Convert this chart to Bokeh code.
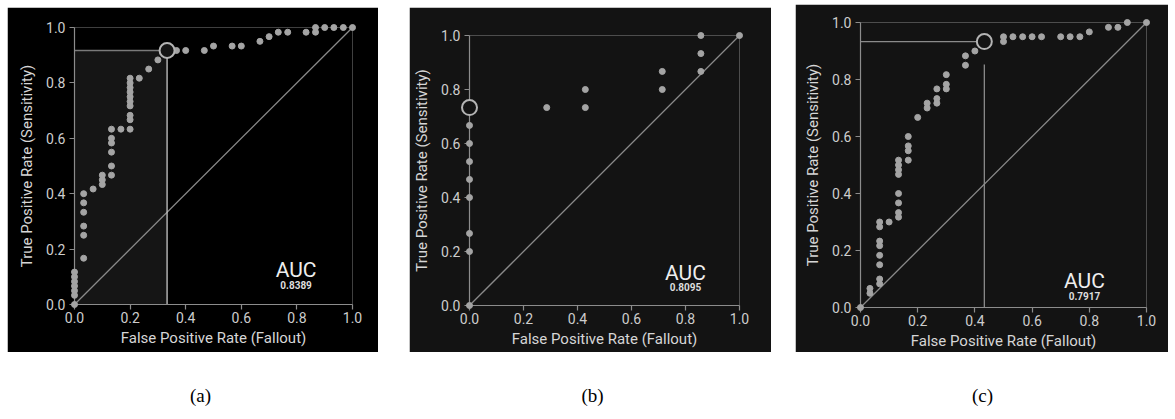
from bokeh.plotting import figure
from bokeh.layouts import row, column
from bokeh.models import Range1d, FixedTicker, Spacer, PrintfTickFormatter
from bokeh.core.properties import value
from bokeh.embed import file_html
from bokeh.resources import INLINE

# ---------------- data ----------------
tick_values = [0.0, 0.2, 0.4, 0.6, 0.8, 1.0]
tick_labels = ["0.0", "0.2", "0.4", "0.6", "0.8", "1.0"]
x_title = "False Positive Rate (Fallout)"
y_title = "True Positive Rate (Sensitivity)"
captions = ["(a)", "(b)", "(c)"]

# panel (a)
fpr_a = [0.0, 0.0, 0.0, 0.0, 0.0, 0.0, 0.0,
         0.033, 0.033, 0.033, 0.033, 0.033, 0.033,
         0.067,
         0.1, 0.1, 0.1,
         0.133, 0.133, 0.133, 0.133, 0.133, 0.133,
         0.167,
         0.2, 0.2, 0.2, 0.2, 0.2, 0.2, 0.2, 0.2, 0.2, 0.2,
         0.233, 0.267, 0.3, 0.367, 0.4, 0.467, 0.5, 0.567, 0.6,
         0.667, 0.7, 0.733, 0.767, 0.833, 0.867, 0.867, 0.9, 0.933, 0.967, 1.0]
tpr_a = [0.0, 0.033, 0.05, 0.067, 0.083, 0.1, 0.117,
         0.167, 0.25, 0.283, 0.333, 0.367, 0.4,
         0.417,
         0.433, 0.45, 0.467,
         0.467, 0.5, 0.55, 0.583, 0.6, 0.633,
         0.633,
         0.633, 0.667, 0.683, 0.717, 0.733, 0.75, 0.767, 0.783, 0.8, 0.817,
         0.817, 0.85, 0.883, 0.917, 0.917, 0.917, 0.933, 0.933, 0.933,
         0.95, 0.967, 0.983, 0.983, 0.983, 0.983, 1.0, 1.0, 1.0, 1.0, 1.0]
opt_a = (0.333, 0.917)
auc_a = "0.8389"

# panel (b)
fpr_b = [0.0, 0.0, 0.0, 0.0, 0.0, 0.0, 0.0, 0.0,
         0.286, 0.429, 0.429, 0.714, 0.714, 0.857, 0.857, 0.857, 1.0]
tpr_b = [0.0, 0.2, 0.267, 0.4, 0.467, 0.533, 0.6, 0.667,
         0.733, 0.733, 0.8, 0.8, 0.867, 0.867, 0.933, 1.0, 1.0]
opt_b = (0.0, 0.733)
auc_b = "0.8095"

# panel (c)
fpr_c = [0.0,
         0.033, 0.033,
         0.067, 0.067, 0.067, 0.067, 0.067, 0.067, 0.067, 0.067,
         0.1,
         0.133, 0.133, 0.133, 0.133, 0.133, 0.133, 0.133, 0.133,
         0.167, 0.167, 0.167, 0.167,
         0.2,
         0.233, 0.233,
         0.267, 0.267, 0.267,
         0.3, 0.3, 0.3,
         0.367, 0.367,
         0.4,
         0.5, 0.5,
         0.533, 0.567, 0.6, 0.633, 0.7, 0.733, 0.767,
         0.8, 0.867, 0.9, 0.933, 1.0]
tpr_c = [0.0,
         0.05, 0.067,
         0.083, 0.1, 0.15, 0.183, 0.217, 0.233, 0.283, 0.3,
         0.3,
         0.317, 0.333, 0.367, 0.4, 0.467, 0.483, 0.5, 0.517,
         0.517, 0.55, 0.567, 0.6,
         0.667,
         0.7, 0.717,
         0.717, 0.733, 0.767,
         0.767, 0.783, 0.817,
         0.85, 0.883,
         0.9,
         0.933, 0.95,
         0.95, 0.95, 0.95, 0.95, 0.95, 0.95, 0.95,
         0.967, 0.983, 0.983, 1.0, 1.0]
opt_c = (0.433, 0.933)
auc_c = "0.7917"

assert len(fpr_a) == len(tpr_a) and len(fpr_b) == len(tpr_b) and len(fpr_c) == len(tpr_c)

FONT = "Roboto"
AXIS_GRAY = "#8c8c8c"
LABEL_GRAY = "#cdcdcd"
DOT = "#a4a4a4"


def make_panel(fpr, tpr, opt, auc, auc_xy, bg, W, H, ml, mr, mt, mb,
               box=False, cross=False, hcol="#808080", vcol="#808080", vgap=0.0):
    p = figure(width=W, height=H, x_range=Range1d(0, 1), y_range=Range1d(0, 1),
               output_backend="svg", toolbar_location=None,
               min_border_left=ml, min_border_right=mr,
               min_border_top=mt, min_border_bottom=mb,
               background_fill_color=bg, border_fill_color=bg,
               outline_line_color=None)
    p.grid.visible = False
    for ax in (p.xaxis[0], p.yaxis[0]):
        ax.ticker = FixedTicker(ticks=tick_values)
        ax.formatter = PrintfTickFormatter(format="%.1f")
        ax.major_label_overrides = {v: t for v, t in zip(tick_values, tick_labels)}
        ax.axis_line_color = AXIS_GRAY
        ax.axis_line_width = 1.2
        ax.major_tick_line_color = AXIS_GRAY
        ax.major_tick_line_width = 1.2
        ax.minor_tick_line_color = None
        ax.major_tick_in = 0
        ax.major_tick_out = 5
        ax.major_label_text_color = LABEL_GRAY
        ax.major_label_text_font = FONT
        ax.major_label_text_font_size = "14px"
        ax.axis_label_text_color = "#d6d6d6"
        ax.axis_label_text_font = FONT
        ax.axis_label_text_font_size = "15px"
        ax.axis_label_text_font_style = "normal"
    p.xaxis[0].axis_label = x_title
    p.yaxis[0].axis_label = y_title
    p.xaxis[0].major_label_standoff = 2
    p.xaxis[0].axis_label_standoff = 3
    p.yaxis[0].major_label_standoff = 4
    p.yaxis[0].axis_label_standoff = 7

    ox, oy = opt
    if box:
        p.quad(left=[0], right=[ox], bottom=[0], top=[oy],
               fill_color="#151515", line_color=None, level="underlay")
    # chance diagonal
    p.line([0, 1], [0, 1], line_color="#8a8a8a", line_width=1.3)
    if cross:
        p.line([0, ox], [oy, oy], line_color=hcol, line_width=1.3)
        p.line([ox, ox], [0, oy - vgap], line_color=vcol, line_width=1.3)
    p.scatter(fpr, tpr, size=6, fill_color=DOT, line_color=DOT, level="annotation")
    p.scatter([ox], [oy], size=15, fill_color=bg if not box else "#151515",
              line_color="#b4b4b4", line_width=2, level="annotation")
    ax_, ay_ = auc_xy
    p.text(x=[ax_], y=[ay_], text=["AUC"], text_font=value(FONT),
           text_font_size="21px", text_color="#eeeeee",
           text_align="center", text_baseline="middle")
    p.text(x=[ax_], y=[ay_ - 0.053], text=[auc], text_font=value(FONT),
           text_font_size="10px", text_font_style="bold", text_color="#dddddd",
           text_align="center", text_baseline="middle")
    return p


fa = make_panel(fpr_a, tpr_a, opt_a, auc_a, (0.797, 0.124), "#000000",
                371, 345, 67, 26, 20, 48, box=True, cross=True,
                hcol="#7a7a7a", vcol="#c8c8c8")
fb = make_panel(fpr_b, tpr_b, opt_b, auc_b, (0.80, 0.12), "#131313",
                362, 345, 60, 32, 28, 47)
fc = make_panel(fpr_c, tpr_c, opt_c, auc_c, (0.783, 0.093), "#131313",
                373, 348, 65, 22, 18, 45, cross=True,
                hcol="#8a8a8a", vcol="#8a8a8a", vgap=0.08)

cap = figure(width=1168, height=60, x_range=Range1d(0, 1168), y_range=Range1d(0, 60),
             output_backend="svg", toolbar_location=None, min_border=0,
             outline_line_color=None, background_fill_color="white",
             border_fill_color="white")
cap.axis.visible = False
cap.grid.visible = False
cap.text(x=[200, 592, 982], y=[17, 17, 17], text=captions,
         text_font=value("Liberation Serif"), text_font_size="19px",
         text_color="#000000", text_align="center", text_baseline="middle")

top = row(Spacer(width=7),
          column(Spacer(height=7), fa),
          Spacer(width=31),
          column(Spacer(height=7), fb),
          Spacer(width=24),
          column(Spacer(height=4), fc))
layout = column(top, cap)

with open("out.html", "w") as f:
    f.write(file_html(layout, INLINE))
